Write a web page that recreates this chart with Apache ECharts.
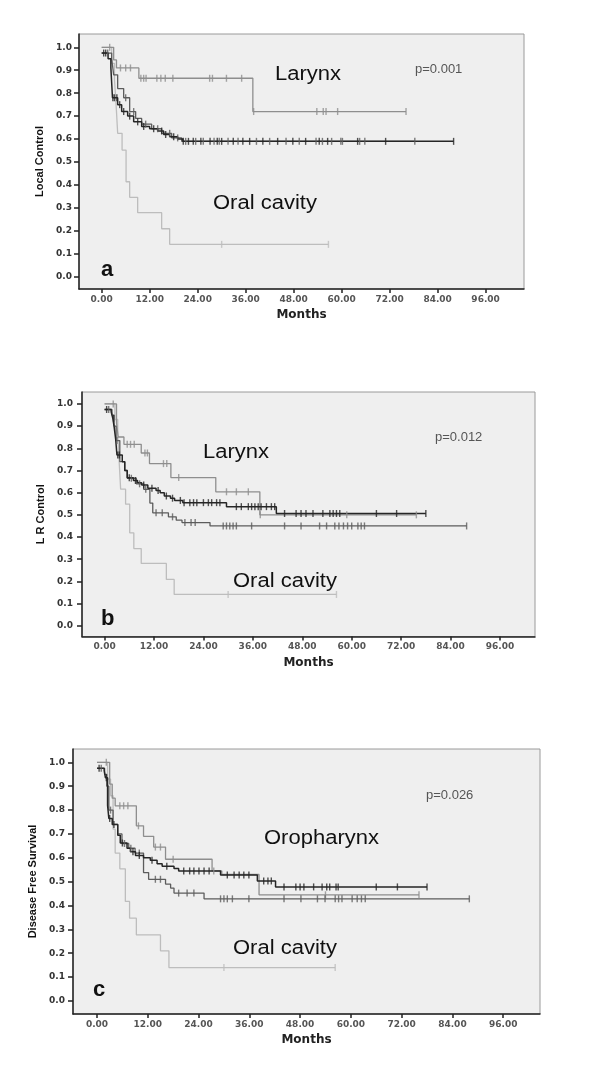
<!DOCTYPE html>
<html>
<head>
<meta charset="utf-8">
<script src="https://cdn.jsdelivr.net/npm/echarts@6/dist/echarts.min.js"></script>
<style>
  html, body { margin: 0; padding: 0; background: #fff; }
  #main { width: 600px; height: 1072px; }
</style>
</head>
<body>
<div id="main"></div>
<script>
// tick labels
const xTicks = [0, 12, 24, 36, 48, 60, 72, 84, 96];
const yTicks = [0, 0.1, 0.2, 0.3, 0.4, 0.5, 0.6, 0.7, 0.8, 0.9, 1.0];
const yNames = ['Local Control', 'L R Control', 'Disease Free Survival'];
const panelLetters = ['a', 'b', 'c'];
const pValues = ['p=0.001', 'p=0.012', 'p=0.026'];
const groupLabels = [['Larynx', 'Oral cavity'], ['Larynx', 'Oral cavity'], ['Oropharynx', 'Oral cavity']];

// ---- panel a (Local Control) ----
const aGrayTime = [0, 3.0, 3.7, 9.3, 37.8];
const aGraySurv = [1.0, 0.945, 0.91, 0.865, 0.72];
const aGrayCens = [2.0, 4.7, 6.0, 7.2, 9.8, 10.5, 11.1, 13.8, 14.8, 15.9, 17.8, 27.0, 27.7, 31.2, 35.0, 38.0, 53.8, 55.4, 56.1, 59.0, 76.1];
const aOralTime = [0, 2.5, 3.2, 3.7, 4.0, 5.1, 6.1, 7.0, 9.0, 15.0, 17.0];
const aOralSurv = [1.0, 0.93, 0.86, 0.72, 0.625, 0.552, 0.414, 0.346, 0.279, 0.209, 0.141];
const aOralCens = [30.0, 56.7];
const aBlackTime = [0, 1.6, 2.3, 2.7, 4.0, 5.0, 6.5, 8.0, 10.0, 12.0, 14.0, 15.5, 17.0, 19.0, 20.3];
const aBlackSurv = [0.975, 0.95, 0.91, 0.78, 0.75, 0.72, 0.70, 0.675, 0.655, 0.645, 0.635, 0.62, 0.61, 0.60, 0.59];
const aBlackCens = [0.5, 1.0, 2.8, 3.2, 3.8, 4.5, 5.5, 7.0, 9.0, 10.5, 13.0, 15.0, 16.0, 18.0, 20.4, 21.7, 22.9, 24.8, 27.1, 28.9, 30.0, 32.9, 35.3, 37.0, 40.3, 44.0, 47.8, 51.0, 54.4, 56.5, 64.0, 71.0, 88.0];
const aDarkTime = [0, 2.5, 3.0, 4.0, 5.5, 7.0, 8.5, 10.0, 12.5, 15.0, 17.5, 20.0];
const aDarkSurv = [0.975, 0.95, 0.88, 0.82, 0.78, 0.72, 0.69, 0.665, 0.645, 0.625, 0.605, 0.59];
const aDarkCens = [1.5, 6.0, 8.0, 11.0, 14.0, 17.0, 19.0, 21.0, 23.5, 25.4, 28.1, 29.4, 31.6, 34.1, 38.7, 42.0, 46.1, 49.4, 53.6, 55.2, 57.5, 59.8, 60.2, 64.5, 65.8, 78.3];

// ---- panel b (L R Control) ----
const bGrayTime = [0, 2.9, 3.3, 4.7, 8.9, 10.9, 16.1, 27.0, 37.7];
const bGraySurv = [1.0, 0.914, 0.851, 0.818, 0.779, 0.731, 0.668, 0.604, 0.50];
const bGrayCens = [2.1, 5.5, 6.3, 7.2, 9.8, 10.4, 14.3, 15.1, 18.0, 29.6, 32.0, 34.9, 37.8, 58.8, 75.7];
const bOralTime = [0, 2.5, 3.2, 3.6, 3.9, 5.1, 6.1, 7.1, 8.9, 15.0, 16.9];
const bOralSurv = [1.0, 0.93, 0.86, 0.72, 0.616, 0.548, 0.419, 0.348, 0.281, 0.209, 0.141];
const bOralCens = [30.0, 56.3];
const bBlackTime = [0, 1.6, 2.0, 2.3, 2.7, 3.0, 4.3, 4.9, 5.5, 7.0, 8.0, 9.0, 10.5, 12.5, 13.5, 14.5, 16.0, 17.0, 19.0, 29.6, 41.7];
const bBlackSurv = [0.975, 0.965, 0.935, 0.90, 0.84, 0.77, 0.739, 0.70, 0.667, 0.655, 0.645, 0.635, 0.62, 0.61, 0.60, 0.585, 0.575, 0.565, 0.555, 0.537, 0.506];
const bBlackCens = [0.5, 2.2, 3.2, 3.6, 6.0, 7.5, 9.5, 11.5, 13.0, 15.0, 16.5, 18.4, 19.3, 20.7, 21.6, 22.4, 24.0, 25.2, 26.0, 27.2, 28.0, 32.0, 33.2, 34.9, 35.7, 36.5, 37.3, 38.0, 39.3, 40.5, 41.3, 43.7, 46.5, 47.7, 48.9, 50.6, 53.0, 54.7, 55.5, 56.3, 57.1, 66.0, 70.9, 78.0];
const bDarkTime = [0, 1.8, 2.3, 2.8, 3.7, 4.9, 5.5, 7.7, 9.5, 11.0, 11.7, 15.5, 17.4, 18.8, 25.6];
const bDarkSurv = [0.975, 0.95, 0.90, 0.835, 0.74, 0.70, 0.665, 0.64, 0.615, 0.553, 0.509, 0.491, 0.476, 0.465, 0.45];
const bDarkCens = [1.0, 3.0, 6.5, 8.5, 10.0, 12.5, 14.0, 16.5, 19.5, 21.0, 22.0, 28.8, 29.6, 30.4, 31.2, 32.0, 35.7, 43.7, 47.7, 52.2, 53.9, 55.9, 56.9, 58.0, 59.0, 60.0, 61.5, 62.3, 63.1, 87.9];

// ---- panel c (Disease Free Survival) ----
const cGrayTime = [0, 3.0, 3.6, 4.3, 9.3, 11.0, 13.4, 16.2, 27.2, 29.5, 38.3];
const cGraySurv = [1.0, 0.909, 0.85, 0.818, 0.734, 0.69, 0.645, 0.594, 0.545, 0.53, 0.445];
const cGrayCens = [2.2, 5.4, 6.3, 7.3, 9.8, 13.8, 15.0, 18.0, 27.6, 54.0, 76.1];
const cOralTime = [0, 2.5, 3.2, 3.8, 4.3, 5.4, 6.7, 7.7, 9.3, 15.0, 17.0];
const cOralSurv = [1.0, 0.93, 0.86, 0.72, 0.62, 0.554, 0.417, 0.347, 0.277, 0.21, 0.14];
const cOralCens = [30.0, 56.3];
const cBlackTime = [0, 1.7, 2.0, 2.5, 2.8, 3.6, 4.9, 5.5, 7.1, 7.9, 9.1, 11.0, 12.6, 14.2, 15.4, 18.2, 19.3, 29.2, 37.9, 42.2];
const cBlackSurv = [0.975, 0.965, 0.935, 0.82, 0.765, 0.74, 0.695, 0.662, 0.64, 0.625, 0.61, 0.60, 0.59, 0.575, 0.565, 0.555, 0.545, 0.528, 0.503, 0.478];
const cBlackCens = [0.5, 2.2, 3.0, 4.0, 6.0, 8.5, 10.0, 13.0, 16.5, 20.5, 21.9, 22.9, 24.1, 25.3, 26.5, 30.8, 32.4, 33.6, 34.7, 35.9, 39.4, 40.4, 41.2, 44.2, 47.0, 48.0, 48.9, 51.2, 53.2, 54.3, 55.0, 56.5, 57.0, 66.0, 71.0, 78.0];
const cDarkTime = [0, 1.8, 2.3, 2.8, 3.8, 4.9, 5.9, 7.5, 9.0, 11.0, 12.2, 16.2, 17.4, 18.2, 25.3];
const cDarkSurv = [0.975, 0.95, 0.90, 0.80, 0.74, 0.70, 0.66, 0.64, 0.62, 0.538, 0.51, 0.49, 0.473, 0.452, 0.428];
const cDarkCens = [1.0, 3.2, 6.5, 8.0, 10.0, 13.8, 15.0, 19.3, 21.3, 22.9, 29.2, 30.0, 30.8, 32.0, 35.9, 44.2, 48.2, 52.1, 53.9, 56.3, 57.1, 57.9, 60.3, 61.5, 62.5, 63.4, 88.0];

const curveColors = { oral: '#bdbdbd', gray: '#8e8e8e', dark: '#5c5c5c', black: '#262626' };

const panels = [
  { curves: [
      ['oral', aOralTime, aOralSurv, aOralCens], ['gray', aGrayTime, aGraySurv, aGrayCens],
      ['dark', aDarkTime, aDarkSurv, aDarkCens], ['black', aBlackTime, aBlackSurv, aBlackCens]],
    grid: { left: 79, top: 34, width: 445, height: 255 },
    x: [-5.67, 105.6], y: [-0.0536, 1.058], yMargin: 7, yGap: 29,
    texts: [[275, 74, 0], [213, 203.5, 1]], p: [415, 69], letter: [101, 270] },
  { curves: [
      ['oral', bOralTime, bOralSurv, bOralCens], ['gray', bGrayTime, bGraySurv, bGrayCens],
      ['dark', bDarkTime, bDarkSurv, bDarkCens], ['black', bBlackTime, bBlackSurv, bBlackCens]],
    grid: { left: 82, top: 392, width: 453, height: 244.5 },
    x: [-5.48, 104.5], y: [-0.0486, 1.054], yMargin: 9, yGap: 31,
    texts: [[203, 452.7, 0], [233, 581, 1]], p: [435, 437.4], letter: [101, 618.5] },
  { curves: [
      ['oral', cOralTime, cOralSurv, cOralCens], ['gray', cGrayTime, cGraySurv, cGrayCens],
      ['dark', cDarkTime, cDarkSurv, cDarkCens], ['black', cBlackTime, cBlackSurv, cBlackCens]],
    grid: { left: 73, top: 749, width: 467, height: 265 },
    x: [-5.67, 104.7], y: [-0.0546, 1.056], yMargin: 8, yGap: 30,
    texts: [[264, 838.4, 0], [233, 948.4, 1]], p: [426, 795.7], letter: [93, 990] }
];

// value of the step curve at time t
function stepAt(times, surv, t) {
  let v = surv[0];
  for (let i = 0; i < times.length; i++) { if (times[i] <= t) v = surv[i]; }
  return v;
}

const grids = [], xAxes = [], yAxes = [], series = [], graphics = [];

panels.forEach((p, k) => {
  grids.push(Object.assign({ show: true, backgroundColor: '#efefef', borderColor: '#9a9a9a', borderWidth: 1 }, p.grid));
  xAxes.push({
    type: 'value', gridIndex: k, min: p.x[0], max: p.x[1],
    name: 'Months', nameLocation: 'middle', nameGap: 20,
    nameTextStyle: { fontFamily: 'DejaVu Sans', fontWeight: 'bold', fontSize: 12, color: '#222' },
    axisLine: { onZero: false, lineStyle: { color: '#222', width: 1.5 } },
    axisTick: { customValues: xTicks, length: 4, lineStyle: { color: '#222', width: 1.5 } },
    axisLabel: { customValues: xTicks, margin: 6, formatter: v => v.toFixed(2),
      fontFamily: 'DejaVu Sans', fontWeight: 'bold', fontSize: 9, color: '#555' },
    splitLine: { show: false }
  });
  yAxes.push({
    type: 'value', gridIndex: k, min: p.y[0], max: p.y[1],
    name: yNames[k], nameLocation: 'middle', nameGap: p.yGap, nameRotate: 90,
    nameTextStyle: { fontFamily: 'Liberation Sans', fontWeight: 'bold', fontSize: 11, color: '#111' },
    axisLine: { onZero: false, lineStyle: { color: '#222', width: 1.5 } },
    axisTick: { customValues: yTicks, length: 5, lineStyle: { color: '#222', width: 1.5 } },
    axisLabel: { customValues: yTicks, margin: p.yMargin, formatter: v => v.toFixed(1),
      fontFamily: 'DejaVu Sans', fontWeight: 'bold', fontSize: 9, color: '#333' },
    splitLine: { show: false }
  });

  p.curves.forEach(([key, times, surv, cens]) => {
    const color = curveColors[key];
    const lastT = Math.max(times[times.length - 1], cens[cens.length - 1]);
    const lineData = times.map((t, i) => [t, surv[i]]);
    lineData.push([lastT, surv[surv.length - 1]]);
    series.push({
      type: 'line', xAxisIndex: k, yAxisIndex: k, step: 'end', data: lineData,
      showSymbol: false, lineStyle: { color: color, width: key === 'black' ? 1.5 : 1.3 }, z: 3
    });
    series.push({
      type: 'scatter', xAxisIndex: k, yAxisIndex: k,
      data: cens.map(t => [t, stepAt(times, surv, t)]),
      symbol: 'rect', symbolSize: [1.4, 7], itemStyle: { color: color }, z: 4
    });
  });

  p.texts.forEach(([x, y, i]) => {
    graphics.push({ type: 'text', x: x, y: y, scaleX: 1.1, z: 10,
      style: { text: groupLabels[k][i], fontFamily: 'Liberation Sans', fontSize: 20, fill: '#111', verticalAlign: 'middle' } });
  });
  graphics.push({ type: 'text', x: p.p[0], y: p.p[1], z: 10,
    style: { text: pValues[k], fontFamily: 'Liberation Sans', fontSize: 13, fill: '#555', verticalAlign: 'middle' } });
  graphics.push({ type: 'text', x: p.letter[0], y: p.letter[1], z: 10,
    style: { text: panelLetters[k], fontFamily: 'Liberation Sans', fontWeight: 'bold', fontSize: 22, fill: '#111', verticalAlign: 'middle' } });
});

const chart = echarts.init(document.getElementById('main'));
chart.setOption({
  animation: false,
  backgroundColor: '#ffffff',
  grid: grids,
  xAxis: xAxes,
  yAxis: yAxes,
  series: series,
  graphic: graphics
});
</script>
</body>
</html>
